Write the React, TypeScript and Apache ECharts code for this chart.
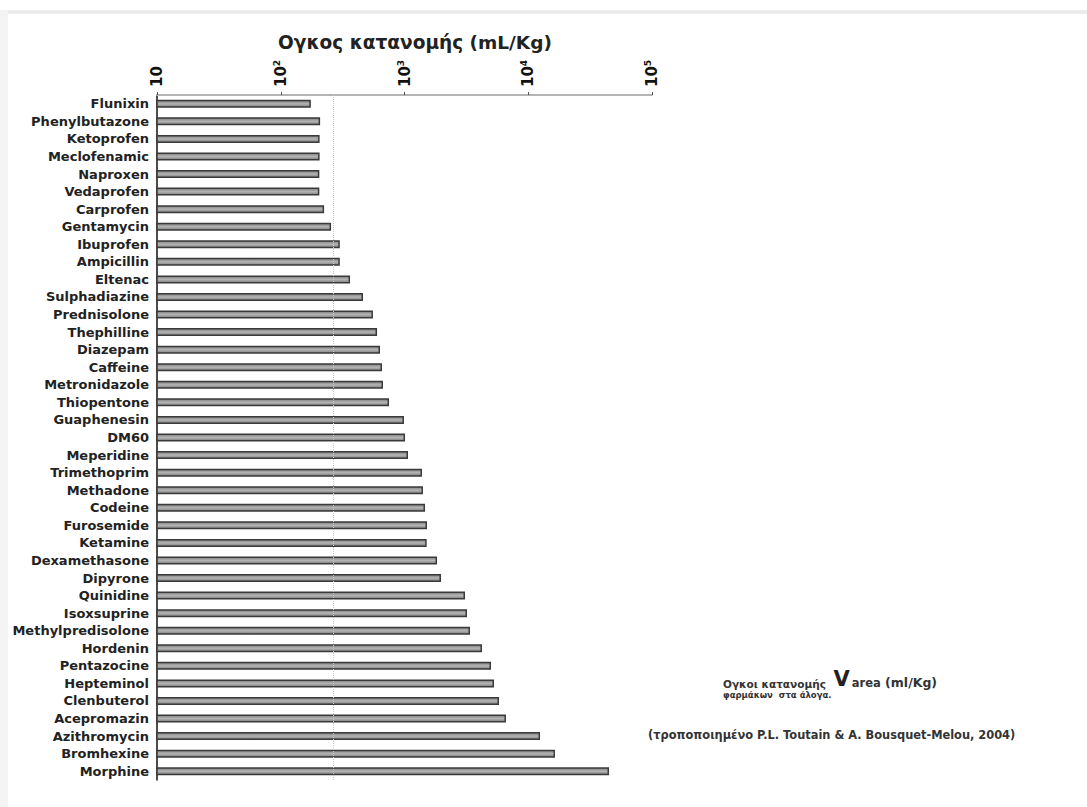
import React, { useEffect, useRef } from "react";
import * as echarts from "echarts";

const drugs = [
  "Flunixin", "Phenylbutazone", "Ketoprofen", "Meclofenamic", "Naproxen", "Vedaprofen",
  "Carprofen", "Gentamycin", "Ibuprofen", "Ampicillin", "Eltenac", "Sulphadiazine",
  "Prednisolone", "Thephilline", "Diazepam", "Caffeine", "Metronidazole", "Thiopentone",
  "Guaphenesin", "DM60", "Meperidine", "Trimethoprim", "Methadone", "Codeine",
  "Furosemide", "Ketamine", "Dexamethasone", "Dipyrone", "Quinidine", "Isoxsuprine",
  "Methylpredisolone", "Hordenin", "Pentazocine", "Hepteminol", "Clenbuterol",
  "Acepromazin", "Azithromycin", "Bromhexine", "Morphine",
];

const volumes = [
  175, 208, 206, 206, 205, 205,
  224, 255, 300, 300, 363, 462,
  556, 600, 634, 658, 670, 750,
  990, 1010, 1067, 1384, 1410, 1465,
  1520, 1510, 1832, 1972, 3083, 3199,
  3381, 4227, 5000, 5286, 5805,
  6607, 12450, 16440, 44960,
];

const tickValues = [10, 100, 1000, 10000, 100000];
const tickLabels = ["10", "10{s|2}", "10{s|3}", "10{s|4}", "10{s|5}"];

const axisTitle = "Ογκος κατανομής (mL/Kg)";
const noteLine1a = "Ογκοι κατανομής ";
const noteLine1b = "V";
const noteLine1c = "area";
const noteLine1d = " (ml/Kg)";
const noteLine2 = "φαρμάκων  στα άλογα.";
const noteLine3 = "(τροποποιημένο P.L. Toutain & A. Bousquet-Melou, 2004)";

const FONT = "DejaVu Sans";

export default function App() {
  const ref = useRef<HTMLDivElement>(null);
  useEffect(() => {
    if (!ref.current) return;
    const chart = echarts.init(ref.current, null, { renderer: "svg" });
    chart.setOption({
      animation: false,
      backgroundColor: "#ffffff",
      textStyle: { fontFamily: FONT },
      grid: { left: 157, right: 435, top: 95, bottom: 27, containLabel: false },
      xAxis: {
        type: "log",
        logBase: 10,
        min: 10,
        max: 100000,
        position: "top",
        axisLine: { show: true, lineStyle: { color: "#b4b4b4", width: 2 } },
        axisTick: { show: true, length: 3, inside: false, lineStyle: { color: "#555", width: 1 } },
        splitLine: { show: false },
        axisLabel: {
          rotate: -90,
          margin: 8,
          color: "#111",
          fontFamily: FONT,
          fontWeight: "bold",
          fontSize: 15,
          formatter: (v: number) => {
            const i = tickValues.findIndex((t) => Math.abs(t - v) / t < 1e-6);
            return i >= 0 ? tickLabels[i] : "";
          },
          rich: {
            s: { fontSize: 9, fontWeight: "bold", color: "#111", verticalAlign: "top", padding: [0, 0, 8, 0] },
          },
        },
      },
      yAxis: {
        type: "category",
        data: drugs,
        inverse: true,
        axisLine: { show: true, lineStyle: { color: "#111", width: 1.5 } },
        axisTick: { show: false },
        axisLabel: {
          color: "#222",
          fontFamily: FONT,
          fontWeight: "bold",
          fontSize: 13,
          margin: 8,
        },
      },
      series: [
        {
          type: "bar",
          data: volumes,
          barWidth: 8,
          itemStyle: {
            color: new echarts.graphic.LinearGradient(0, 0, 0, 1, [
              { offset: 0, color: "#7e7e7e" },
              { offset: 0.5, color: "#b4b4b4" },
              { offset: 1, color: "#7e7e7e" },
            ]),
            borderColor: "#3a3a3a",
            borderWidth: 1.5,
          },
          markLine: {
            silent: true,
            symbol: "none",
            label: { show: false },
            lineStyle: { color: "#c8c8c8", type: "dotted", width: 1 },
            data: [{ xAxis: 265 }],
          },
        },
      ],
      graphic: [
        { type: "rect", shape: { x: 0, y: 10, width: 1087, height: 4 }, style: { fill: "#ececec" }, silent: true },
        { type: "rect", shape: { x: 0, y: 10, width: 8, height: 797 }, style: { fill: "#f4f4f4" }, silent: true },
        {
          type: "text",
          x: 415,
          y: 42,
          style: {
            text: axisTitle,
            font: `bold 18.5px "${FONT}"`,
            fill: "#222",
            align: "center",
            verticalAlign: "middle",
          },
        },
        {
          type: "text",
          left: 723,
          top: 668,
          style: {
            text: `{a|${noteLine1a}}{b|${noteLine1b}}{c|${noteLine1c}}{d|${noteLine1d}}`,
            rich: {
              a: { fontSize: 10.5, fontFamily: FONT, fontWeight: "bold", fill: "#333", verticalAlign: "bottom" },
              b: { fontSize: 21, fontFamily: FONT, fontWeight: "bold", fill: "#222", verticalAlign: "bottom", padding: [0, 2, 0, 4] },
              c: { fontSize: 11.5, fontFamily: FONT, fontWeight: "bold", fill: "#333", verticalAlign: "bottom" },
              d: { fontSize: 12.5, fontFamily: FONT, fontWeight: "bold", fill: "#333", verticalAlign: "bottom" },
            },
          },
        },
        {
          type: "text",
          left: 723,
          top: 690,
          style: { text: noteLine2, font: `bold 8.5px "${FONT}"`, fill: "#333" },
        },
        {
          type: "text",
          left: 648,
          top: 729,
          style: { text: noteLine3, font: `bold 11.4px "${FONT}"`, fill: "#333" },
        },
      ],
    });
    return () => chart.dispose();
  }, []);
  return (
    <div style={{ position: "absolute", left: 0, top: 0, width: 1087, height: 807, background: "#fff" }}>
      <div ref={ref} style={{ width: 1087, height: 807 }} />
    </div>
  );
}
